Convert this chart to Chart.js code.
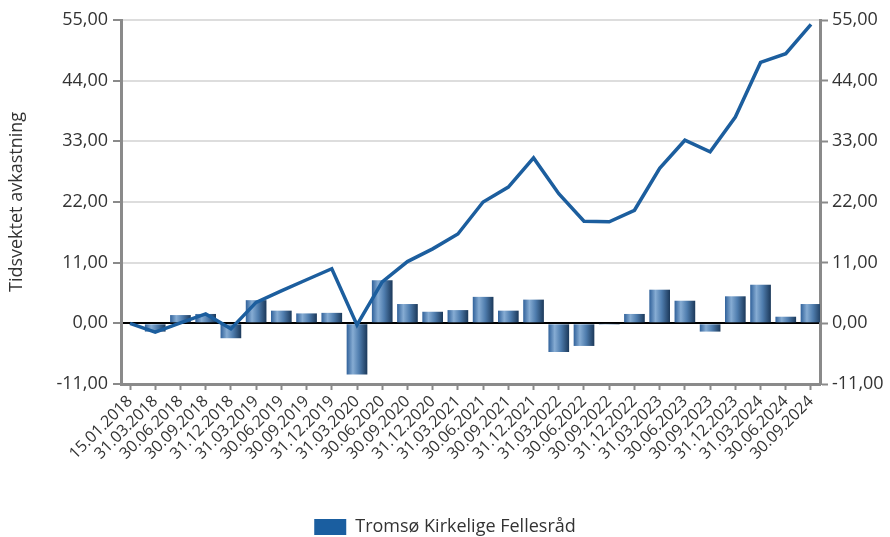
<!DOCTYPE html>
<html>
<head>
<meta charset="utf-8">
<script src="https://cdn.jsdelivr.net/npm/chart.js@4.4.1/dist/chart.umd.min.js"></script>
<style>
  html, body { margin: 0; padding: 0; background: #fff; }
  #wrap { width: 890px; height: 537px; }
</style>
</head>
<body>
<div id="wrap"><canvas id="c" width="890" height="537"></canvas></div>
<script>
const categories = ["15.01.2018","31.03.2018","30.06.2018","30.09.2018","31.12.2018","31.03.2019","30.06.2019","30.09.2019","31.12.2019","31.03.2020","30.06.2020","30.09.2020","31.12.2020","31.03.2021","30.06.2021","30.09.2021","31.12.2021","31.03.2022","30.06.2022","30.09.2022","31.12.2022","31.03.2023","30.06.2023","30.09.2023","31.12.2023","31.03.2024","30.06.2024","30.09.2024"];
const periodReturns = [0, -1.5, 1.5, 1.7, -2.7, 4.2, 2.3, 1.8, 1.9, -9.3, 7.8, 3.5, 2.1, 2.4, 4.8, 2.3, 4.3, -5.2, -4.1, -0.1, 1.7, 6.1, 4.1, -1.5, 4.9, 7.0, 1.2, 3.5];
const cumulativeReturns = [0, -1.6, 0.1, 1.7, -1.0, 3.8, 5.9, 7.9, 9.9, -0.3, 7.5, 11.2, 13.5, 16.2, 22.0, 24.7, 30.0, 23.5, 18.5, 18.4, 20.5, 28.1, 33.2, 31.1, 37.4, 47.3, 48.9, 54.2];
const seriesName = "Tromsø Kirkelige Fellesråd";
const axisTitle = "Tidsvektet avkastning";
const yMin = -11, yMax = 55, yStep = 11;

const FONT = "'Open Sans'";
const TEXT = "#333";
const BAR_PCT = 0.82;
const EDGE_GAP = 0.357; // category-axis padding at each end, in category units

function barGradient(ctx) {
  const chart = ctx.chart;
  const xs = chart.scales.x;
  if (!chart.chartArea || !xs) return "#3a6ea5";
  const cx = xs.getPixelForValue(ctx.dataIndex);
  const w = Math.abs(xs.getPixelForValue(1) - xs.getPixelForValue(0)) * BAR_PCT;
  const g = chart.ctx.createLinearGradient(cx - w / 2, 0, cx + w / 2, 0);
  g.addColorStop(0, "#30619a");
  g.addColorStop(0.3, "#86acd3");
  g.addColorStop(0.6, "#4f7dae");
  g.addColorStop(1, "#1b3859");
  return g;
}

const fmt = v => Number(v).toFixed(2).replace(".", ",");

new Chart(document.getElementById("c"), {
  type: "bar",
  data: {
    labels: categories,
    datasets: [
      {
        type: "line",
        label: seriesName,
        data: cumulativeReturns,
        borderColor: "#1c5e9e",
        backgroundColor: "#1c5e9e",
        borderWidth: 3.5,
        pointRadius: 0,
        tension: 0,
        yAxisID: "y",
        order: 0
      },
      {
        type: "bar",
        label: seriesName,
        data: periodReturns,
        backgroundColor: barGradient,
        borderWidth: 0,
        barPercentage: BAR_PCT,
        categoryPercentage: 1.0,
        yAxisID: "y",
        order: 1
      }
    ]
  },
  options: {
    responsive: false,
    animation: false,
    devicePixelRatio: 1,
    layout: { padding: { top: 20, left: 0, right: 0, bottom: -9 } },
    plugins: {
      tooltip: { enabled: false },
      legend: {
        display: true,
        position: "bottom",
        labels: {
          font: { family: FONT, size: 18 },
          color: TEXT,
          boxWidth: 32,
          boxHeight: 16,
          padding: 6,
          generateLabels: () => [{
            text: seriesName,
            fillStyle: "#1a5ea0",
            strokeStyle: "#1a5ea0",
            lineWidth: 0,
            hidden: false,
            datasetIndex: 0,
            fontColor: TEXT
          }]
        }
      }
    },
    scales: {
      x: {
        offset: true,
        grid: {
          offset: false,
          drawOnChartArea: false,
          drawTicks: true,
          tickLength: 6,
          tickColor: "#8a8a8a",
          tickWidth: 2
        },
        border: { color: "#8a8a8a", width: 3 },
        ticks: {
          font: { family: FONT, size: 16 },
          color: TEXT,
          maxRotation: 45,
          minRotation: 45,
          autoSkip: false,
          padding: 2
        },
        afterFit: s => { s.height = 128; },
        afterUpdate: s => {
          s._startValue = -EDGE_GAP;
          s._valueRange = categories.length - 1 + 2 * EDGE_GAP;
        }
      },
      y: {
        position: "left",
        min: yMin, max: yMax,
        ticks: {
          stepSize: yStep,
          font: { family: FONT, size: 18 },
          color: TEXT,
          padding: 5,
          callback: v => fmt(v)
        },
        grid: {
          color: c => (c.tick && c.tick.value === 0) ? "#000" : "#dddddd",
          lineWidth: 2,
          tickLength: 8,
          tickColor: "#8a8a8a",
          tickWidth: 2
        },
        border: { color: "#8a8a8a", width: 3 },
        title: {
          display: true,
          text: axisTitle,
          font: { family: FONT, size: 18 },
          color: TEXT,
          padding: { top: 6, bottom: 6 }
        },
        afterFit: s => { s.width = 121; }
      },
      y2: {
        position: "right",
        min: yMin, max: yMax,
        ticks: {
          stepSize: yStep,
          font: { family: FONT, size: 18 },
          color: TEXT,
          padding: 4,
          callback: v => fmt(v)
        },
        grid: {
          drawOnChartArea: false,
          tickLength: 8,
          tickColor: "#8a8a8a",
          tickWidth: 2
        },
        border: { color: "#8a8a8a", width: 3 },
        afterFit: s => { s.width = 70; }
      }
    }
  }
});
</script>
</body>
</html>
